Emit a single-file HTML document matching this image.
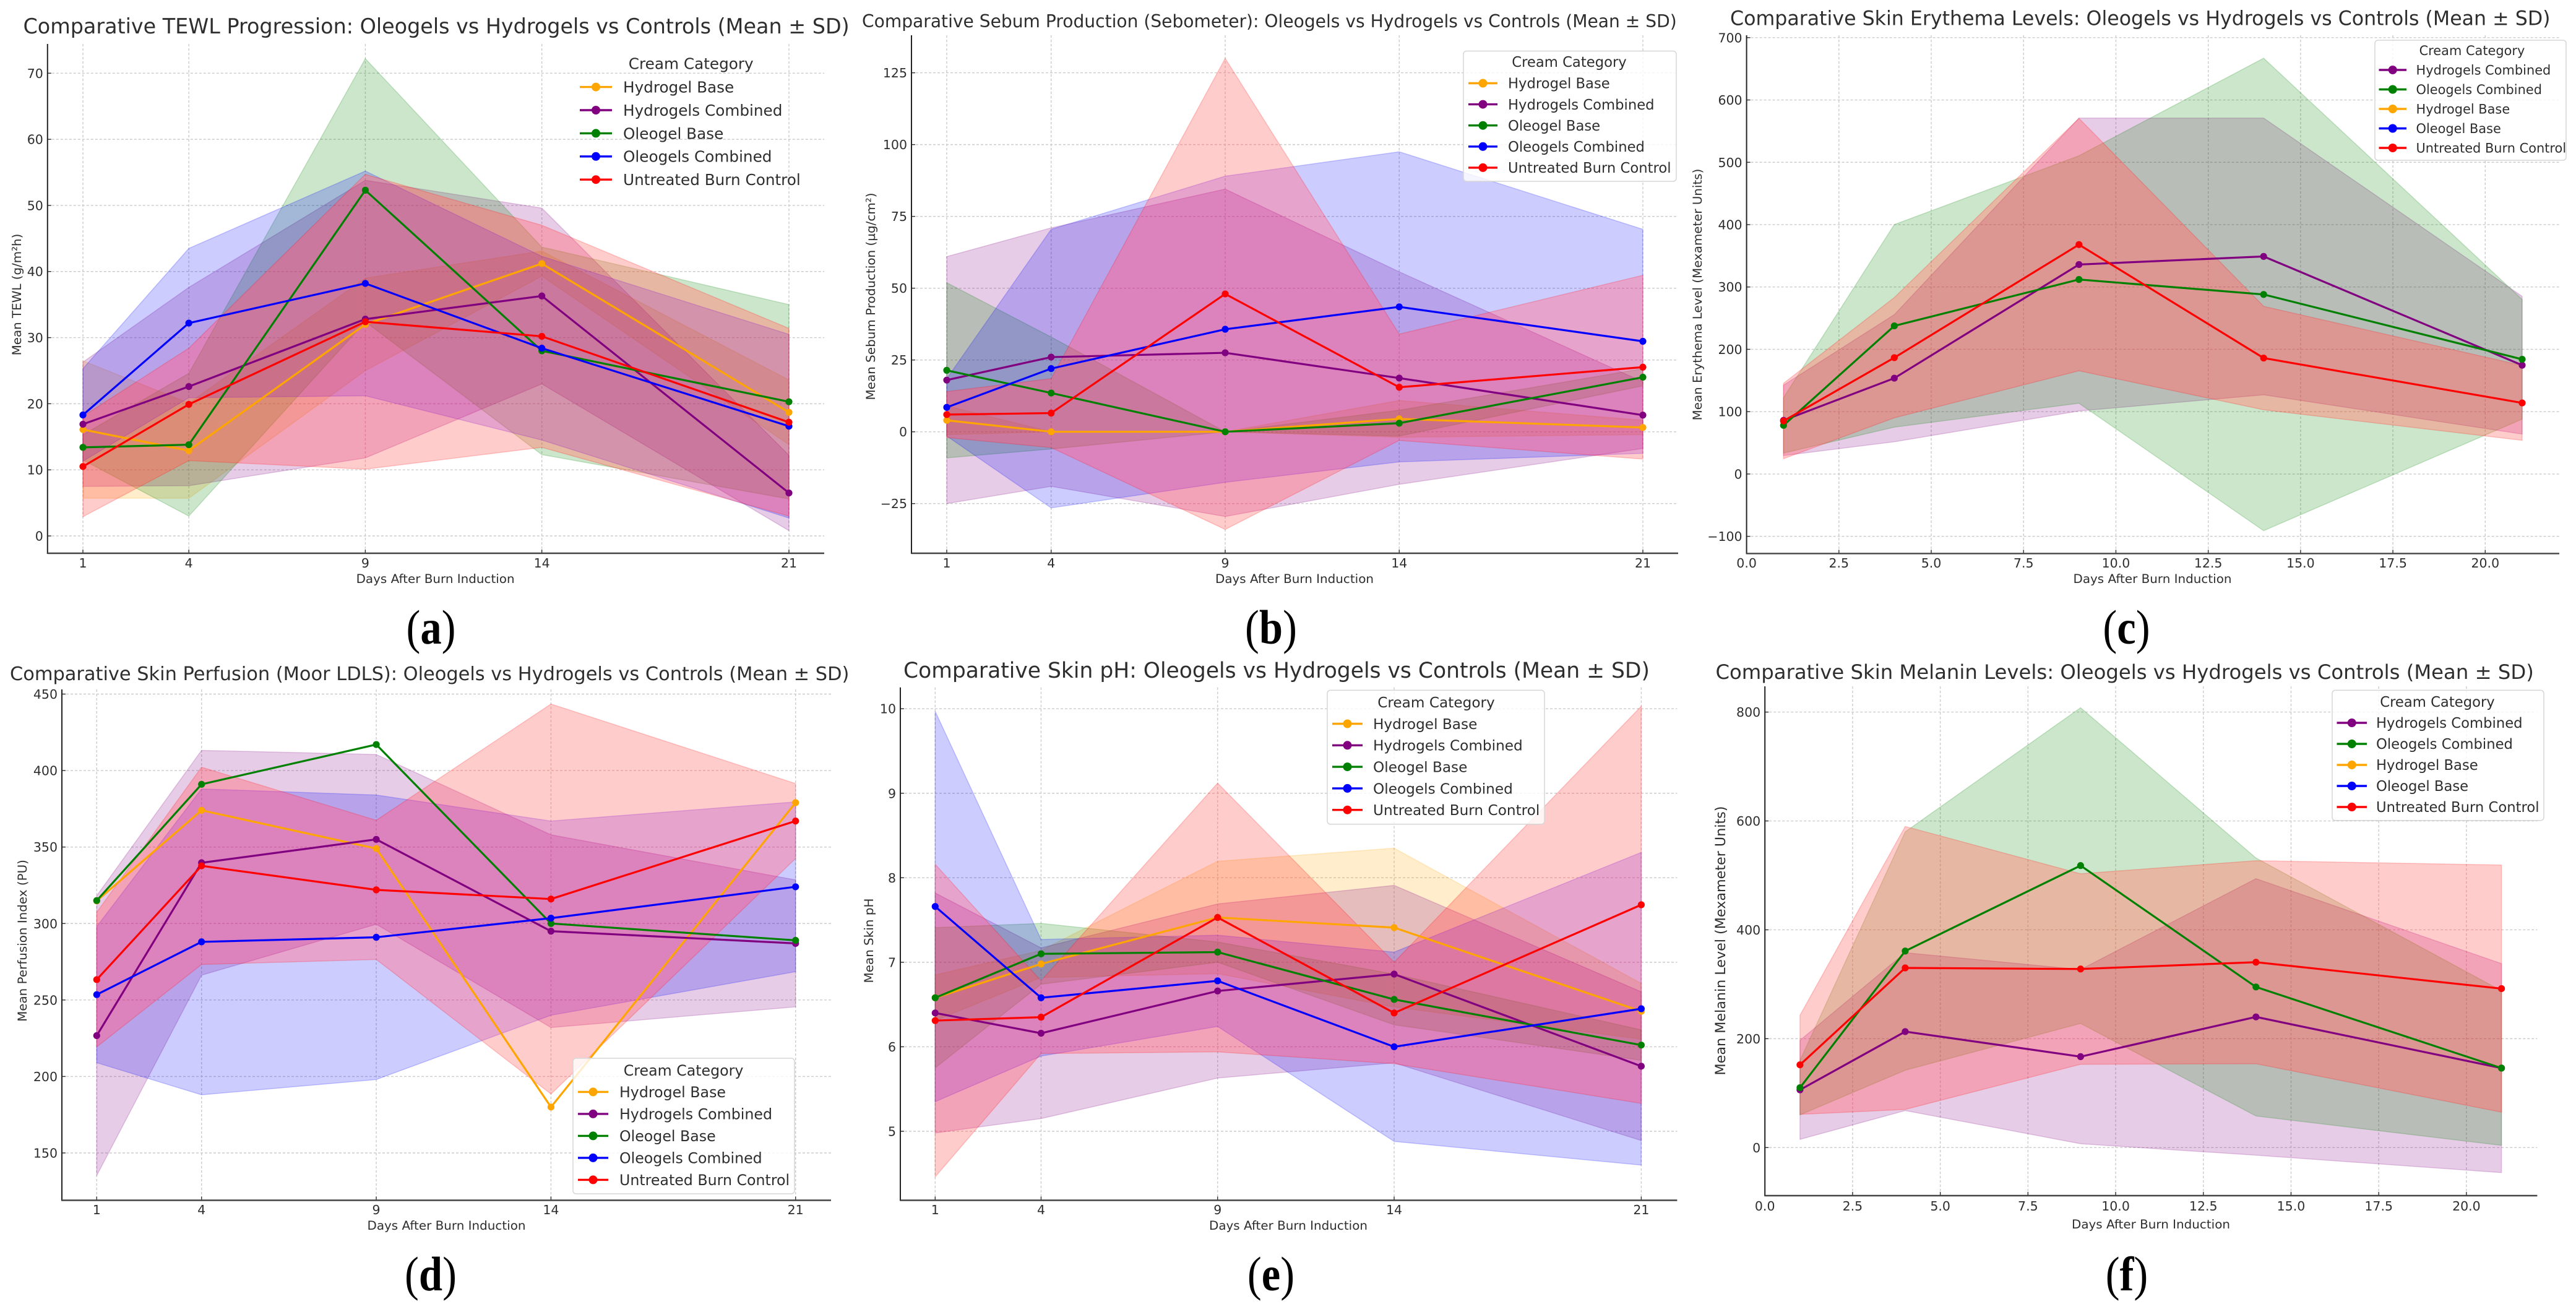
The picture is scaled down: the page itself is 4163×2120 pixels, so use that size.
<!DOCTYPE html>
<html lang="en">
<head>
<meta charset="utf-8">
<title>Comparative skin measurements: Oleogels vs Hydrogels vs Controls</title>
<style>
html,body{margin:0;padding:0;background:#fff;width:4163px;height:2120px;overflow:hidden}
svg{display:block;isolation:isolate}
text{font-family:"DejaVu Sans","Liberation Sans",sans-serif;fill:#2e2e2e}
.caption{font-family:"Liberation Serif",serif;font-weight:normal;fill:#000}
.caption tspan.letter{font-weight:bold}
</style>
</head>
<body>
<svg id="figure" xmlns="http://www.w3.org/2000/svg" width="4163" height="2120" viewBox="0 0 4163 2120">
<rect x="0" y="0" width="4163" height="2120" fill="#ffffff"></rect>
</svg>
<script>
// ---------- shared categories ----------
const days = [1, 4, 9, 14, 21];
const dayTicks = [1, 4, 9, 14, 21];
const decimalDayTicks = [0, 2.5, 5, 7.5, 10, 12.5, 15, 17.5, 20];
const legendOrderStandard = ["Hydrogel Base", "Hydrogels Combined", "Oleogel Base", "Oleogels Combined", "Untreated Burn Control"];
const legendOrderAlternate = ["Hydrogels Combined", "Oleogels Combined", "Hydrogel Base", "Oleogel Base", "Untreated Burn Control"];

// ---------- (a) TEWL ----------
const tewlTicks = [0, 10, 20, 30, 40, 50, 60, 70];
const tewlHydrogelBaseMean = [16.1, 12.9, 32, 41.2, 18.7];
const tewlHydrogelBaseSd = [10.4, 7.2, 7, 1.9, 4.9];
const tewlHydrogelsCombinedMean = [16.9, 22.6, 32.8, 36.3, 6.5];
const tewlHydrogelsCombinedSd = [9.4, 15, 21, 13.3, 5.7];
const tewlOleogelBaseMean = [13.4, 13.8, 52.3, 28, 20.3];
const tewlOleogelBaseSd = [1.9, 10.8, 19.9, 15.7, 14.7];
const tewlOleogelsCombinedMean = [18.3, 32.2, 38.2, 28.4, 16.6];
const tewlOleogelsCombinedSd = [7, 11.3, 17, 13.9, 13.9];
const tewlControlMean = [10.5, 19.9, 32.4, 30.2, 17.2];
const tewlControlSd = [7.6, 8.5, 22.3, 16.8, 14.2];

// ---------- (b) Sebum ----------
const sebumTicks = [-25, 0, 25, 50, 75, 100, 125];
const sebumHydrogelBaseMean = [4, 0, 0, 4.5, 1.5];
const sebumHydrogelBaseSd = [5, 0, 0, 6.4, 2.5];
const sebumHydrogelsCombinedMean = [18, 26, 27.5, 18.7, 5.8];
const sebumHydrogelsCombinedSd = [43, 45, 57, 37, 11.6];
const sebumOleogelBaseMean = [21.4, 13.5, 0, 3, 19];
const sebumOleogelBaseSd = [30.5, 19.5, 0, 4.5, 3];
const sebumOleogelsCombinedMean = [8.5, 22, 35.7, 43.5, 31.5];
const sebumOleogelsCombinedSd = [10, 48.5, 53.3, 54, 39];
const sebumControlMean = [6, 6.5, 48, 15.5, 22.5];
const sebumControlSd = [8, 12, 82, 18.5, 32];

// ---------- (c) Erythema ----------
const erythemaTicks = [-100, 0, 100, 200, 300, 400, 500, 600, 700];
const erythemaHydrogelsCombinedMean = [86, 153.7, 336, 349, 174.5];
const erythemaHydrogelsCombinedSd = [56.5, 102, 235, 222, 110.5];
const erythemaOleogelsCombinedMean = [78, 237.6, 312, 288, 184];
const erythemaOleogelsCombinedSd = [44.5, 162.5, 198.5, 379, 96];
const erythemaControlMean = [85, 186.6, 368, 186, 114];
const erythemaControlSd = [60.5, 96.5, 202.5, 83, 60];

// ---------- (d) Perfusion ----------
const perfusionTicks = [150, 200, 250, 300, 350, 400, 450];
const perfusionHydrogelBaseMean = [314.8, 374, 349, 180, 379];
const perfusionHydrogelBaseSd = [0, 0, 0, 0, 0];
const perfusionHydrogelsCombinedMean = [226.7, 339.7, 355, 295, 287];
const perfusionHydrogelsCombinedSd = [91.5, 73.5, 55.5, 63, 41.5];
const perfusionOleogelBaseMean = [315, 391, 417, 300, 289];
const perfusionOleogelBaseSd = [0, 0, 0, 0, 0];
const perfusionOleogelsCombinedMean = [253.5, 288, 291, 303.5, 324];
const perfusionOleogelsCombinedSd = [44.5, 100, 93, 63.5, 55.5];
const perfusionControlMean = [263.3, 337.7, 322, 316, 367];
const perfusionControlSd = [44, 64.5, 45.5, 127.5, 24.5];

// ---------- (e) pH ----------
const phTicks = [5, 6, 7, 8, 9, 10];
const phHydrogelBaseMean = [6.58, 6.98, 7.53, 7.41, 6.42];
const phHydrogelBaseSd = [0.27, 0.16, 0.665, 0.94, 0.33];
const phHydrogelsCombinedMean = [6.4, 6.16, 6.66, 6.86, 5.77];
const phHydrogelsCombinedSd = [1.42, 1.01, 1.03, 1.05, 0.88];
const phOleogelBaseMean = [6.58, 7.1, 7.12, 6.56, 6.02];
const phOleogelBaseSd = [0.83, 0.36, 0.12, 0.3, 0.18];
const phOleogelsCombinedMean = [7.66, 6.58, 6.78, 6, 6.45];
const phOleogelsCombinedSd = [2.31, 0.69, 0.54, 1.12, 1.85];
const phControlMean = [6.31, 6.35, 7.53, 6.4, 7.68];
const phControlSd = [1.85, 0.43, 1.59, 0.6, 2.35];

// ---------- (f) Melanin ----------
const melaninTicks = [0, 200, 400, 600, 800];
const melaninHydrogelsCombinedMean = [106, 213, 167, 240, 146];
const melaninHydrogelsCombinedSd = [91, 145, 160, 254, 192];
const melaninOleogelsCombinedMean = [110, 361, 518, 295, 146];
const melaninOleogelsCombinedSd = [50, 219, 290, 237, 142];
const melaninControlMean = [152, 330, 328, 340.5, 292];
const melaninControlSd = [91, 260, 175, 186.5, 227];

// ---------- panel layout ----------
const colors = {orange: "#ffa500", purple: "#800080", green: "#008000", blue: "#0000ff", red: "#ff0000"};

const panels = [
 {key:"tewl", letter:"a", capX:696.5, capY:1040,
  title:"Comparative TEWL Progression: Oleogels vs Hydrogels vs Controls (Mean ± SD)", titleX:37.5, titleY:54, titleW:1336,
  left:76.8, right:1332, top:71, bottom:894,
  xA:[1,134], xB:[21,1275], yA:[0,866], yB:[70,118.3],
  xTicks:dayTicks, xFixed:false, yTicks:tewlTicks,
  xTickY:917, xLabelX:703.6, xLabelY:942,
  yLabel:"Mean TEWL (g/m²h)", yLabelX:34, yLabelY:476, yLabelW:197,
  series:[
   {label:"Hydrogel Base", color:colors.orange, mean:tewlHydrogelBaseMean, sd:tewlHydrogelBaseSd},
   {label:"Hydrogels Combined", color:colors.purple, mean:tewlHydrogelsCombinedMean, sd:tewlHydrogelsCombinedSd},
   {label:"Oleogel Base", color:colors.green, mean:tewlOleogelBaseMean, sd:tewlOleogelBaseSd},
   {label:"Oleogels Combined", color:colors.blue, mean:tewlOleogelsCombinedMean, sd:tewlOleogelsCombinedSd},
   {label:"Untreated Burn Control", color:colors.red, mean:tewlControlMean, sd:tewlControlSd}],
  legend:{order:legendOrderStandard, colors:[colors.orange,colors.purple,colors.green,colors.blue,colors.red], frame:false,
   x0:928, x1:1300, y0:84, y1:306, hx0:937, hx1:989, tx:1007, fs:24.7, titleCx:1116.7, titleY:111.7, firstRow:140.6, rowGap:37.4}},
 {key:"sebum", letter:"b", capX:2054, capY:1040,
  title:"Comparative Sebum Production (Sebometer): Oleogels vs Hydrogels vs Controls (Mean ± SD)", titleX:1393, titleY:44, titleW:1317,
  left:1473, right:2712, top:57, bottom:894,
  xA:[1,1530], xB:[21,2655], yA:[0,697.7], yB:[125,117.6],
  xTicks:dayTicks, xFixed:false, yTicks:sebumTicks,
  xTickY:917, xLabelX:2092, xLabelY:942,
  yLabel:"Mean Sebum Production (µg/cm²)", yLabelX:1414, yLabelY:479, yLabelW:335,
  series:[
   {label:"Hydrogel Base", color:colors.orange, mean:sebumHydrogelBaseMean, sd:sebumHydrogelBaseSd},
   {label:"Hydrogels Combined", color:colors.purple, mean:sebumHydrogelsCombinedMean, sd:sebumHydrogelsCombinedSd},
   {label:"Oleogel Base", color:colors.green, mean:sebumOleogelBaseMean, sd:sebumOleogelBaseSd},
   {label:"Oleogels Combined", color:colors.blue, mean:sebumOleogelsCombinedMean, sd:sebumOleogelsCombinedSd},
   {label:"Untreated Burn Control", color:colors.red, mean:sebumControlMean, sd:sebumControlSd}],
  legend:{order:legendOrderStandard, colors:[colors.orange,colors.purple,colors.green,colors.blue,colors.red], frame:true,
   x0:2365, x1:2709, y0:82.5, y1:293, hx0:2373, hx1:2420, tx:2437, fs:22.7, titleCx:2536, titleY:108, firstRow:134.5, rowGap:34.1}},
 {key:"erythema", letter:"c", capX:3436.5, capY:1040,
  title:"Comparative Skin Erythema Levels: Oleogels vs Hydrogels vs Controls (Mean ± SD)", titleX:2796, titleY:40.6, titleW:1326,
  left:2822.6, right:4136, top:57, bottom:894.4,
  xA:[0,2822.6], xB:[20,4016.3], yA:[0,765.9], yB:[700,60.8],
  xTicks:decimalDayTicks, xFixed:true, yTicks:erythemaTicks,
  xTickY:917, xLabelX:3478.5, xLabelY:942,
  yLabel:"Mean Erythema Level (Mexameter Units)", yLabelX:2750, yLabelY:476, yLabelW:407,
  series:[
   {label:"Hydrogels Combined", color:colors.purple, mean:erythemaHydrogelsCombinedMean, sd:erythemaHydrogelsCombinedSd},
   {label:"Oleogels Combined", color:colors.green, mean:erythemaOleogelsCombinedMean, sd:erythemaOleogelsCombinedSd},
   {label:"Untreated Burn Control", color:colors.red, mean:erythemaControlMean, sd:erythemaControlSd}],
  legend:{order:legendOrderAlternate, colors:[colors.purple,colors.green,colors.orange,colors.blue,colors.red], frame:true,
   x0:3838, x1:4147, y0:65, y1:259, hx0:3844.5, hx1:3889, tx:3904.5, fs:20.9, titleCx:3995, titleY:89, firstRow:113, rowGap:31.5}},
 {key:"perfusion", letter:"d", capX:696, capY:2085,
  title:"Comparative Skin Perfusion (Moor LDLS): Oleogels vs Hydrogels vs Controls (Mean ± SD)", titleX:16, titleY:1099, titleW:1357,
  left:100, right:1343, top:1114, bottom:1939.5,
  xA:[1,156.3], xB:[21,1285.7], yA:[150,1863], yB:[450,1121.5],
  xTicks:dayTicks, xFixed:false, yTicks:perfusionTicks,
  xTickY:1962, xLabelX:721.5, xLabelY:1987,
  yLabel:"Mean Perfusion Index (PU)", yLabelX:43, yLabelY:1520, yLabelW:262,
  series:[
   {label:"Hydrogel Base", color:colors.orange, mean:perfusionHydrogelBaseMean, sd:perfusionHydrogelBaseSd},
   {label:"Hydrogels Combined", color:colors.purple, mean:perfusionHydrogelsCombinedMean, sd:perfusionHydrogelsCombinedSd},
   {label:"Oleogel Base", color:colors.green, mean:perfusionOleogelBaseMean, sd:perfusionOleogelBaseSd},
   {label:"Oleogels Combined", color:colors.blue, mean:perfusionOleogelsCombinedMean, sd:perfusionOleogelsCombinedSd},
   {label:"Untreated Burn Control", color:colors.red, mean:perfusionControlMean, sd:perfusionControlSd}],
  legend:{order:legendOrderStandard, colors:[colors.orange,colors.purple,colors.green,colors.blue,colors.red], frame:true,
   x0:926, x1:1284, y0:1710, y1:1929, hx0:934, hx1:983, tx:1001, fs:23.7, titleCx:1104.6, titleY:1738, firstRow:1764.4, rowGap:35.5}},
 {key:"ph", letter:"e", capX:2054, capY:2085,
  title:"Comparative Skin pH: Oleogels vs Hydrogels vs Controls (Mean ± SD)", titleX:1460, titleY:1095, titleW:1206,
  left:1455, right:2710.4, top:1110.7, bottom:1939.5,
  xA:[1,1511.3], xB:[21,2652.4], yA:[5,1828], yB:[10,1145.2],
  xTicks:dayTicks, xFixed:false, yTicks:phTicks,
  xTickY:1962, xLabelX:2082, xLabelY:1987,
  yLabel:"Mean Skin pH", yLabelX:1411, yLabelY:1520, yLabelW:137,
  series:[
   {label:"Hydrogel Base", color:colors.orange, mean:phHydrogelBaseMean, sd:phHydrogelBaseSd},
   {label:"Hydrogels Combined", color:colors.purple, mean:phHydrogelsCombinedMean, sd:phHydrogelsCombinedSd},
   {label:"Oleogel Base", color:colors.green, mean:phOleogelBaseMean, sd:phOleogelBaseSd},
   {label:"Oleogels Combined", color:colors.blue, mean:phOleogelsCombinedMean, sd:phOleogelsCombinedSd},
   {label:"Untreated Burn Control", color:colors.red, mean:phControlMean, sd:phControlSd}],
  legend:{order:legendOrderStandard, colors:[colors.orange,colors.purple,colors.green,colors.blue,colors.red], frame:true,
   x0:2145, x1:2496, y0:1115.4, y1:1331.8, hx0:2153, hx1:2202, tx:2219, fs:23.2, titleCx:2321, titleY:1143, firstRow:1169.5, rowGap:34.8}},
 {key:"melanin", letter:"f", capX:3437, capY:2085,
  title:"Comparative Skin Melanin Levels: Oleogels vs Hydrogels vs Controls (Mean ± SD)", titleX:2772.5, titleY:1097, titleW:1322.5,
  left:2852.2, right:4100.4, top:1109, bottom:1932,
  xA:[0,2852.2], xB:[20,3985.9], yA:[0,1854.3], yB:[800,1150.6],
  xTicks:decimalDayTicks, xFixed:true, yTicks:melaninTicks,
  xTickY:1956, xLabelX:3476, xLabelY:1985,
  yLabel:"Mean Melanin Level (Mexameter Units)", yLabelX:2788, yLabelY:1520, yLabelW:435,
  series:[
   {label:"Hydrogels Combined", color:colors.purple, mean:melaninHydrogelsCombinedMean, sd:melaninHydrogelsCombinedSd},
   {label:"Oleogels Combined", color:colors.green, mean:melaninOleogelsCombinedMean, sd:melaninOleogelsCombinedSd},
   {label:"Untreated Burn Control", color:colors.red, mean:melaninControlMean, sd:melaninControlSd}],
  legend:{order:legendOrderAlternate, colors:[colors.purple,colors.green,colors.orange,colors.blue,colors.red], frame:true,
   x0:3769, x1:4111, y0:1115.4, y1:1325.7, hx0:3776.5, hx1:3825, tx:3840, fs:22.7, titleCx:3939, titleY:1142, firstRow:1168, rowGap:34}}
];

// ---------- helpers ----------
const NS = "http://www.w3.org/2000/svg";
const root = document.getElementById("figure");
function make(parent, tag, attrs, content) {
  const node = document.createElementNS(NS, tag);
  for (const k in attrs) node.setAttribute(k, attrs[k]);
  if (content !== undefined) node.textContent = content;
  parent.appendChild(node);
  return node;
}
function linearScale(a, b) {
  const m = (b[1] - a[1]) / (b[0] - a[0]);
  return v => a[1] + (v - a[0]) * m;
}
function slug(s) { return s.toLowerCase().replace(/[^a-z0-9]+/g, "-"); }
function fmtTick(v) { return String(v).replace("-", "\u2212"); }
// Picks the font size at which a text node naturally spans the wanted width.
function fitWidth(node, width) {
  const size = parseFloat(node.getAttribute("font-size"));
  const natural = node.getComputedTextLength();
  if (natural > 0) node.setAttribute("font-size", (size * width / natural).toFixed(2));
}

// ---------- rendering ----------
panels.forEach(p => {
  const xScale = linearScale(p.xA, p.xB);
  const yScale = linearScale(p.yA, p.yB);

  const g = make(root, "g", {});
  
  

  // gridlines
  p.xTicks.forEach(t => {
    const line = make(g, "line", {x1:xScale(t), x2:xScale(t), y1:p.top, y2:p.bottom, stroke:"#cccccc", "stroke-width":1.4, "stroke-dasharray":"4 3"});
    
    
  });
  p.yTicks.forEach(t => {
    const line = make(g, "line", {x1:p.left, x2:p.right, y1:yScale(t), y2:yScale(t), stroke:"#cccccc", "stroke-width":1.4, "stroke-dasharray":"4 3"});
    
    
  });

  // SD bands
  p.series.forEach(s => {
    const upper = days.map((d, i) => xScale(d) + "," + yScale(s.mean[i] + s.sd[i]));
    const lower = days.map((d, i) => xScale(d) + "," + yScale(s.mean[i] - s.sd[i])).reverse();
    const pts = upper.concat(lower).join(" ");
    const band = make(g, "polygon", {points:pts, fill:s.color, "fill-opacity":0.2, stroke:s.color, "stroke-opacity":0.2, "stroke-width":1.5});
    
    
    if (s.color === colors.red) {
      // the source's red band reads warmer where it overlaps other bands
      const glow = make(g, "polygon", {points:pts, fill:"#640000", style:"mix-blend-mode:screen"});
      
      
    }
  });

  // mean lines and points
  p.series.forEach(s => {
    const line = make(g, "polyline", {points:days.map((d, i) => xScale(d) + "," + yScale(s.mean[i])).join(" "), fill:"none", stroke:s.color, "stroke-width":3.2});
    
    
    days.forEach((d, i) => {
      const dot = make(g, "circle", {cx:xScale(d), cy:yScale(s.mean[i]), r:5.6, fill:s.color});
      
      
    });
  });

  // tick marks
  p.xTicks.forEach(t => {
    const mark = make(g, "line", {x1:xScale(t), x2:xScale(t), y1:p.bottom, y2:p.bottom - 6, stroke:"#333", "stroke-width":1.4});
    
    
  });
  p.yTicks.forEach(t => {
    const mark = make(g, "line", {x1:p.left, x2:p.left + 6, y1:yScale(t), y2:yScale(t), stroke:"#333", "stroke-width":1.4});
    
    
  });

  // spines
  const spineY = make(g, "line", {x1:p.left, x2:p.left, y1:p.top, y2:p.bottom + 1, stroke:"#222", "stroke-width":2});
  
  
  const spineX = make(g, "line", {x1:p.left, x2:p.right, y1:p.bottom, y2:p.bottom, stroke:"#444", "stroke-width":2.4});
  
  

  // tick labels
  p.xTicks.forEach(t => {
    const label = make(g, "text", {x:xScale(t), y:p.xTickY, "text-anchor":"middle", "font-size":20.5}, p.xFixed ? t.toFixed(1) : String(t));
    
    
  });
  p.yTicks.forEach(t => {
    const label = make(g, "text", {x:p.left - 7, y:yScale(t) + 7.5, "text-anchor":"end", "font-size":20.5}, fmtTick(t));
    
    
  });

  // axis labels
  const xTitle = make(g, "text", {x:p.xLabelX, y:p.xLabelY, "text-anchor":"middle", "font-size":19}, "Days After Burn Induction");
  
  
  fitWidth(xTitle, 256);
  const yTitle = make(g, "text", {x:0, y:0, transform:"translate(" + p.yLabelX + "," + p.yLabelY + ") rotate(-90)", "text-anchor":"middle", "font-size":19}, p.yLabel);
  
  
  fitWidth(yTitle, p.yLabelW);

  // chart title
  const title = make(g, "text", {x:p.titleX, y:p.titleY, "font-size":30}, p.title);
  
  
  fitWidth(title, p.titleW);

  // legend
  const L = p.legend;
  const lg = make(g, "g", {});
  
  
  if (L.frame) {
    const box = make(lg, "rect", {x:L.x0, y:L.y0, width:L.x1 - L.x0, height:L.y1 - L.y0, rx:5, ry:5, fill:"#fff", "fill-opacity":0.8, stroke:"#d6d6d6", "stroke-width":1.5});
    
    
  }
  const lTitle = make(lg, "text", {x:L.titleCx, y:L.titleY, "text-anchor":"middle", "font-size":L.fs}, "Cream Category");
  
  
  L.order.forEach((name, i) => {
    const cy = L.firstRow + i * L.rowGap;
    const entry = make(lg, "g", {});
    
    
    const hLine = make(entry, "line", {x1:L.hx0, x2:L.hx1, y1:cy, y2:cy, stroke:L.colors[i], "stroke-width":3.4});
    
    
    const hDot = make(entry, "circle", {cx:(L.hx0 + L.hx1) / 2, cy:cy, r:7, fill:L.colors[i]});
    
    
    const txt = make(entry, "text", {x:L.tx, y:cy + L.fs * 0.36, "font-size":L.fs}, name);
    
    
  });

  // panel caption: regular parentheses around a bold letter
  const cap = make(g, "text", {x:0, y:0, transform:"translate(" + p.capX + "," + p.capY + ") scale(0.88,1)", "text-anchor":"middle", "font-size":78, "class":"caption"});
  
  
  make(cap, "tspan", {}, "(");
  make(cap, "tspan", {"class":"letter"}, p.letter);
  make(cap, "tspan", {}, ")");
});
</script>
</body>
</html>
